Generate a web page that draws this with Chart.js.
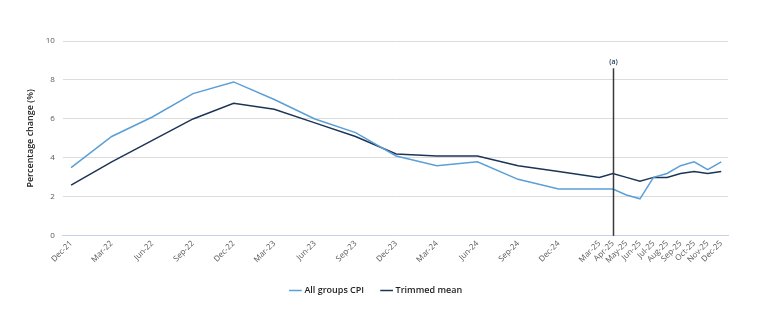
<!DOCTYPE html>
<html>
<head>
<meta charset="utf-8">
<script src="https://cdn.jsdelivr.net/npm/chart.js@4.4.1/dist/chart.umd.min.js"></script>
<style>
  html, body { margin: 0; padding: 0; background: #ffffff; }
  #wrap { width: 775px; height: 327px; }
</style>
</head>
<body>
<div id="wrap"><canvas id="chart" width="775" height="327"></canvas></div>
<script>
// Reference periods: quarterly to Mar-25, monthly from Apr-25
const periods = [
  "Dec-21", "Mar-22", "Jun-22", "Sep-22", "Dec-22", "Mar-23", "Jun-23", "Sep-23",
  "Dec-23", "Mar-24", "Jun-24", "Sep-24", "Dec-24", "Mar-25",
  "Apr-25", "May-25", "Jun-25", "Jul-25", "Aug-25", "Sep-25", "Oct-25", "Nov-25", "Dec-25"
];

// Annual percentage change
const allGroupsCPI = [
  3.5, 5.1, 6.1, 7.3, 7.9, 7.0, 6.0, 5.3,
  4.1, 3.6, 3.8, 2.9, 2.4, 2.4,
  2.4, 2.1, 1.9, 3.0, 3.2, 3.6, 3.8, 3.4, 3.8
];
const trimmedMean = [
  2.6, 3.8, 4.9, 6.0, 6.8, 6.5, 5.8, 5.1,
  4.2, 4.1, 4.1, 3.6, 3.3, 3.0,
  3.2, 3.0, 2.8, 3.0, 3.0, 3.2, 3.3, 3.2, 3.3
];

// Series break marker (a)
const markerPeriod = "Apr-25";
const markerTop = 8.6;
const markerLabel = "(a)";

const yTicks = [0, 2, 4, 6, 8, 10];

const MONTHS = ["Jan","Feb","Mar","Apr","May","Jun","Jul","Aug","Sep","Oct","Nov","Dec"];
const base = periodIndex(periods[0]);
function periodIndex(p) {
  const [m, y] = p.split("-");
  return (2000 + Number(y)) * 12 + MONTHS.indexOf(m);
}
function xOf(p) { return periodIndex(p) - base; }

const toPoints = vals => periods.map((p, i) => ({ x: xOf(p), y: vals[i] }));
const labelByX = {};
periods.forEach(p => { labelByX[xOf(p)] = p; });

const FONT = "'Open Sans', 'Noto Sans', sans-serif";

const markerPlugin = {
  id: "breakMarker",
  afterDatasetsDraw(chart) {
    const { ctx, scales: { x, y } } = chart;
    const px = Math.round(x.getPixelForValue(xOf(markerPeriod))) + 0.5;
    const top = y.getPixelForValue(markerTop);
    const bottom = y.getPixelForValue(0);
    ctx.save();
    ctx.strokeStyle = "#3a3a3a";
    ctx.lineWidth = 1.5;
    ctx.beginPath();
    ctx.moveTo(px, top);
    ctx.lineTo(px, bottom);
    ctx.stroke();
    ctx.fillStyle = "#1c3557";
    ctx.font = "600 7px " + FONT;
    ctx.textAlign = "center";
    ctx.textBaseline = "bottom";
    ctx.fillText(markerLabel, px, top - 3);
    ctx.restore();
  }
};

new Chart(document.getElementById("chart"), {
  type: "line",
  data: {
    datasets: [
      {
        label: "All groups CPI",
        data: toPoints(allGroupsCPI),
        borderColor: "#5b9fd6",
        backgroundColor: "#5b9fd6",
        borderWidth: 1.5,
        pointRadius: 0,
        tension: 0
      },
      {
        label: "Trimmed mean",
        data: toPoints(trimmedMean),
        borderColor: "#1c3557",
        backgroundColor: "#1c3557",
        borderWidth: 1.5,
        pointRadius: 0,
        tension: 0
      }
    ]
  },
  options: {
    responsive: false,
    animation: false,
    layout: { padding: { left: 25, right: 47, top: 41, bottom: 22 } },
    plugins: {
      legend: {
        position: "bottom",
        labels: {
          usePointStyle: true,
          pointStyle: "line",
          boxWidth: 12,
          boxHeight: 12,
          padding: 18,
          color: "#222222",
          font: { family: FONT, size: 9, weight: "600" }
        }
      },
      tooltip: { enabled: false }
    },
    scales: {
      x: {
        type: "linear",
        min: -0.6,
        max: xOf(periods[periods.length - 1]) + 0.5,
        afterBuildTicks(axis) {
          axis.ticks = periods.map(p => ({ value: xOf(p) }));
        },
        ticks: {
          autoSkip: false,
          minRotation: 45,
          maxRotation: 45,
          color: "#595959",
          font: { family: FONT, size: 8 },
          padding: 3,
          callback: v => labelByX[v] || ""
        },
        grid: { display: false, drawTicks: false },
        border: { display: true, color: "#c9d3e6", width: 1 }
      },
      y: {
        min: 0,
        max: 10,
        afterBuildTicks(axis) {
          axis.ticks = yTicks.map(v => ({ value: v }));
        },
        ticks: {
          color: "#595959",
          font: { family: FONT, size: 8 },
          padding: 8
        },
        grid: { color: "#dcdcdc", lineWidth: 1, drawTicks: false },
        border: { display: false },
        title: {
          display: true,
          text: "Percentage change (%)",
          color: "#222222",
          font: { family: FONT, size: 9, weight: "600" },
          padding: { top: 0, bottom: 2 }
        }
      }
    }
  },
  plugins: [markerPlugin]
});
</script>
</body>
</html>
